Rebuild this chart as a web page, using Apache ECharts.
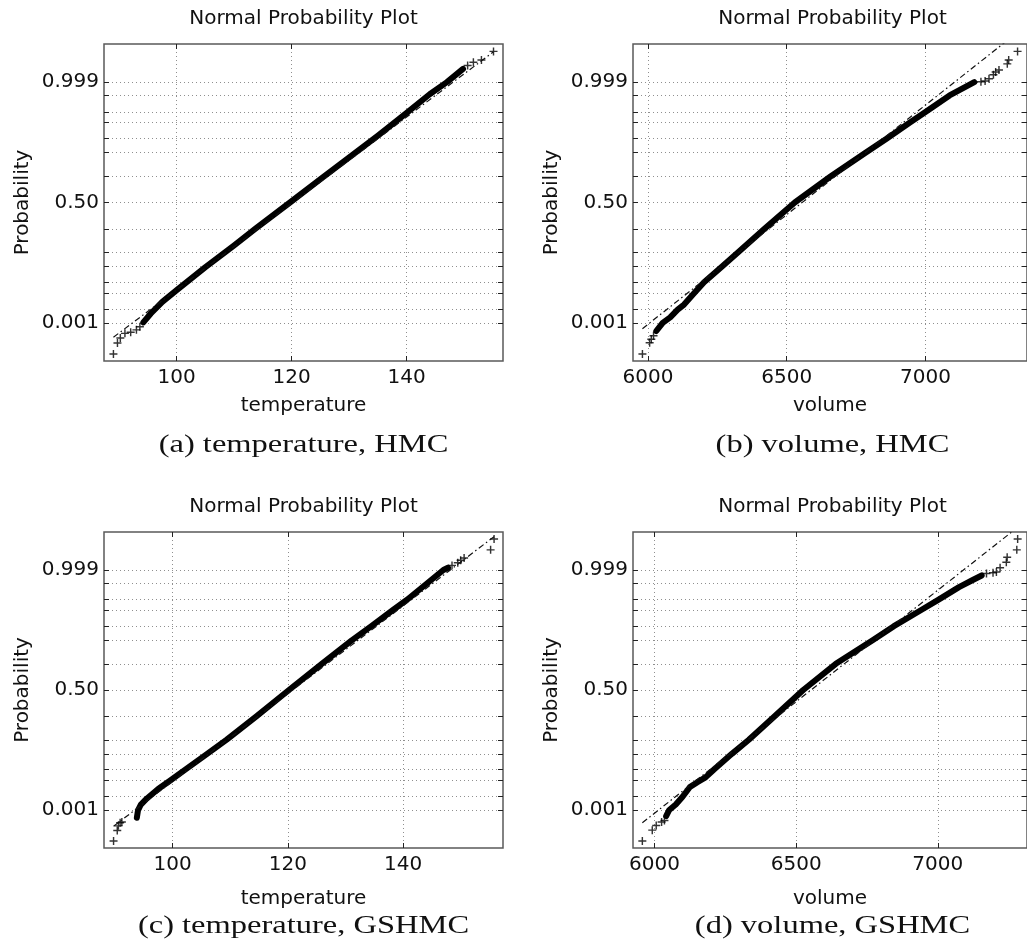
<!DOCTYPE html>
<html><head><meta charset="utf-8">
<script src="https://cdn.jsdelivr.net/npm/echarts@6/dist/echarts.min.js"></script>
<style>html,body{margin:0;padding:0;background:#fff}#c{width:1027px;height:951px}</style>
</head><body><div id="c"></div>
<script>
// ---------- data (x value, normal quantile of plotting position) ----------
const probTicks = [0.001,0.003,0.01,0.02,0.05,0.10,0.25,0.50,0.75,0.90,0.95,0.98,0.99,0.997,0.999];
const probLabelValues = [0.001,0.50,0.999];
const probLabelTexts = ['0.001','0.50','0.999'];
const tempTicks = [100,120,140];
const volTicks = [6000,6500,7000];
const titleText = 'Normal Probability Plot';
const yName = 'Probability';
const xNames = ['temperature','volume','temperature','volume'];
const captions = ['(a) temperature, HMC','(b) volume, HMC','(c) temperature, GSHMC','(d) volume, GSHMC'];
const xLimits = [[87.36,156.75],[5946,7366],[88.1,157.35],[5924,7315]];
const zLimit = 4.07;

// (a) temperature, HMC
const aBand = [[94.2,-3.08],[95.5,-2.85],[97.5,-2.55],[100,-2.25],[105,-1.66],[110,-1.10],[113.7,-0.67],[119.7,0],[125,0.60],[130,1.16],[135,1.72],[140,2.30],[144,2.78],[147,3.09],[149.8,3.43]];
const aTail = [[89.0,-3.89],[89.7,-3.61],[90.2,-3.48],[91.0,-3.36],[92.0,-3.33],[93.0,-3.27],[93.6,-3.19],[150.6,3.52],[151.6,3.60],[153.0,3.66],[155.1,3.88]];
const aRef = [[89.0,-3.46],[155.1,3.87]];

// (b) volume, HMC
const bBand = [[6030,-3.30],[6053,-3.09],[6080,-2.95],[6107,-2.75],[6130,-2.62],[6166,-2.33],[6202,-2.05],[6267,-1.645],[6325,-1.28],[6420,-0.674],[6529,0],[6659,0.674],[6784,1.28],[6861,1.645],[6944,2.054],[7000,2.326],[7087,2.75],[7176,3.09]];
const bTail = [[5980,-3.89],[6006,-3.60],[6012,-3.51],[6020,-3.42],[7200,3.10],[7215,3.12],[7229,3.18],[7245,3.28],[7253,3.35],[7265,3.40],[7295,3.56],[7300,3.66],[7332,3.88]];
const bRef = [[5980,-3.24],[7332,4.37]];

// (c) temperature, GSHMC
const cBand = [[93.8,-3.29],[94.0,-3.10],[94.5,-2.95],[95.5,-2.80],[97.5,-2.55],[99.6,-2.33],[102.2,-2.05],[106,-1.645],[109.4,-1.28],[114.6,-0.674],[120.2,0],[125.9,0.674],[131.1,1.28],[134.5,1.645],[138.2,2.054],[140.7,2.326],[144.2,2.75],[147.0,3.09],[147.8,3.15]];
const cTail = [[89.76,-3.89],[90.4,-3.62],[90.6,-3.50],[90.9,-3.42],[91.2,-3.40],[148.5,3.21],[149.5,3.28],[150.0,3.34],[150.6,3.40],[155.2,3.61],[155.8,3.89]];
const cRef = [[89.76,-3.51],[155.8,3.95]];

// (d) volume, GSHMC
const dBand = [[6041,-3.25],[6052,-3.09],[6075,-2.95],[6099,-2.75],[6125,-2.50],[6150,-2.38],[6180,-2.25],[6209,-2.054],[6273,-1.645],[6333,-1.28],[6424,-0.674],[6525,0],[6640,0.674],[6770,1.28],[6845,1.645],[6940,2.054],[7003,2.326],[7075,2.65],[7120,2.82],[7155,2.95]];
const dTail = [[5957,-3.89],[5992,-3.61],[6006,-3.49],[6025,-3.40],[6035,-3.36],[7172,3.00],[7195,3.02],[7207,3.04],[7220,3.15],[7242,3.29],[7245,3.42],[7279,3.61],[7282,3.89]];
const dRef = [[5957,-3.42],[7282,4.19]];

// ---------- helpers ----------
function probit(p){
  const a=[-3.969683028665376e+01,2.209460984245205e+02,-2.759285104469687e+02,1.383577518672690e+02,-3.066479806614716e+01,2.506628277459239e+00];
  const b=[-5.447609879822406e+01,1.615858368580409e+02,-1.556989798598866e+02,6.680131188771972e+01,-1.328068155288572e+01];
  const c=[-7.784894002430293e-03,-3.223964580411365e-01,-2.400758277161838e+00,-2.549732539343734e+00,4.374664141464968e+00,2.938163982698783e+00];
  const d=[7.784695709041462e-03,3.224671290700398e-01,2.445134137142996e+00,3.754408661907416e+00];
  const pl=0.02425, ph=1-pl; let q,r;
  if(p<pl){q=Math.sqrt(-2*Math.log(p));return (((((c[0]*q+c[1])*q+c[2])*q+c[3])*q+c[4])*q+c[5])/((((d[0]*q+d[1])*q+d[2])*q+d[3])*q+1);}
  if(p>ph){q=Math.sqrt(-2*Math.log(1-p));return -(((((c[0]*q+c[1])*q+c[2])*q+c[3])*q+c[4])*q+c[5])/((((d[0]*q+d[1])*q+d[2])*q+d[3])*q+1);}
  q=p-0.5;r=q*q;return (((((a[0]*r+a[1])*r+a[2])*r+a[3])*r+a[4])*r+a[5])*q/(((((b[0]*r+b[1])*r+b[2])*r+b[3])*r+b[4])*r+1);
}
const zTicks = probTicks.map(probit);
const zLabels = probLabelValues.map(probit);

const SANS = 'DejaVu Sans';
const FS = 20;
const TXT = '#111';
const grids = [
  {left:104, top:44, width:399, height:317},
  {left:633, top:44, width:399, height:317},
  {left:104, top:532, width:399, height:316},
  {left:633, top:532, width:399, height:316}
];
const xNameGaps = [35,35,41,41];
const captionY = [445,445,926,926];
const bands = [aBand,bBand,cBand,dBand];
const tails = [aTail,bTail,cTail,dTail];
const refs = [aRef,bRef,cRef,dRef];
const xTickSets = [tempTicks,volTicks,tempTicks,volTicks];
const plusPath = 'path://M4.1,0H5.9V4.1H10V5.9H5.9V10H4.1V5.9H0V4.1H4.1Z';

const option = {
  animation:false,
  backgroundColor:'#fff',
  grid: grids.map(g => Object.assign({show:true, borderColor:'#5a5a5a', borderWidth:1.5, backgroundColor:'#fff'}, g)),
  xAxis: [], yAxis: [], series: [], graphic: []
};
const gridLine = {show:true, lineStyle:{color:'#8f8f8f', width:1, type:[1,3]}};
const tickStyle = {color:'#222', width:1};
grids.forEach((g,i)=>{
  const ticks = xTickSets[i];
  option.xAxis.push({
    type:'value', gridIndex:i, position:'bottom', min:xLimits[i][0], max:xLimits[i][1],
    name:xNames[i], nameLocation:'middle', nameGap:xNameGaps[i],
    nameTextStyle:{fontFamily:SANS, fontSize:FS, color:TXT},
    axisLine:{show:false, onZero:false},
    axisTick:{show:true, inside:true, length:5, customValues:ticks, lineStyle:tickStyle},
    axisLabel:{customValues:ticks, margin:7, fontFamily:SANS, fontSize:FS, color:TXT, formatter:(v)=>String(v)},
    splitLine:gridLine
  });
  option.xAxis.push({
    type:'value', gridIndex:i, position:'top', min:xLimits[i][0], max:xLimits[i][1],
    axisLine:{show:false, onZero:false},
    axisTick:{show:true, inside:true, length:5, customValues:ticks, lineStyle:tickStyle},
    axisLabel:{show:false}, splitLine:{show:false}
  });
  option.yAxis.push({
    type:'value', gridIndex:i, position:'left', min:-zLimit, max:zLimit,
    name:yName, nameLocation:'middle', nameGap:71,
    nameTextStyle:{fontFamily:SANS, fontSize:FS, color:TXT},
    axisLine:{show:false, onZero:false},
    axisTick:{show:true, inside:true, length:5, customValues:zTicks, lineStyle:tickStyle},
    axisLabel:{customValues:zLabels, margin:5, fontFamily:SANS, fontSize:FS, color:TXT,
      formatter:(v)=>{const k=zLabels.findIndex(z=>Math.abs(z-v)<1e-6);return k>=0?probLabelTexts[k]:'';}},
    splitLine:gridLine
  });
  option.yAxis.push({
    type:'value', gridIndex:i, position:'right', min:-zLimit, max:zLimit,
    axisLine:{show:false, onZero:false},
    axisTick:{show:true, inside:true, length:5, customValues:zTicks, lineStyle:tickStyle},
    axisLabel:{show:false}, splitLine:{show:false}
  });
  option.series.push({
    type:'line', xAxisIndex:2*i, yAxisIndex:2*i, data:refs[i], showSymbol:false, clip:true, z:4,
    lineStyle:{color:'#111', width:1.2, type:[6,3,1.5,3]}, silent:true
  });
  option.series.push({
    type:'line', xAxisIndex:2*i, yAxisIndex:2*i, data:bands[i], showSymbol:false, clip:true, z:3,
    lineStyle:{color:'#000', width:6, cap:'round', join:'round'}, silent:true
  });
  option.series.push({
    type:'scatter', xAxisIndex:2*i, yAxisIndex:2*i, data:tails[i], symbol:plusPath, symbolSize:8, z:3,
    itemStyle:{color:'#000'}, silent:true
  });
  const cx = g.left + g.width/2;
  option.graphic.push({type:'text', x:cx, y:g.top-25, z:10,
    style:{text:titleText, font:FS+'px "DejaVu Sans"', fill:TXT, textAlign:'center', textVerticalAlign:'middle', align:'center', verticalAlign:'middle'}});
  option.graphic.push({type:'text', x:cx, y:captionY[i], scaleX:1.3, z:10,
    style:{text:captions[i], font:'25px "Liberation Serif"', fill:TXT, textAlign:'center', textVerticalAlign:'middle', align:'center', verticalAlign:'middle'}});
});
const chart = echarts.init(document.getElementById('c'), null, {renderer:'canvas'});
chart.setOption(option);
</script></body></html>
